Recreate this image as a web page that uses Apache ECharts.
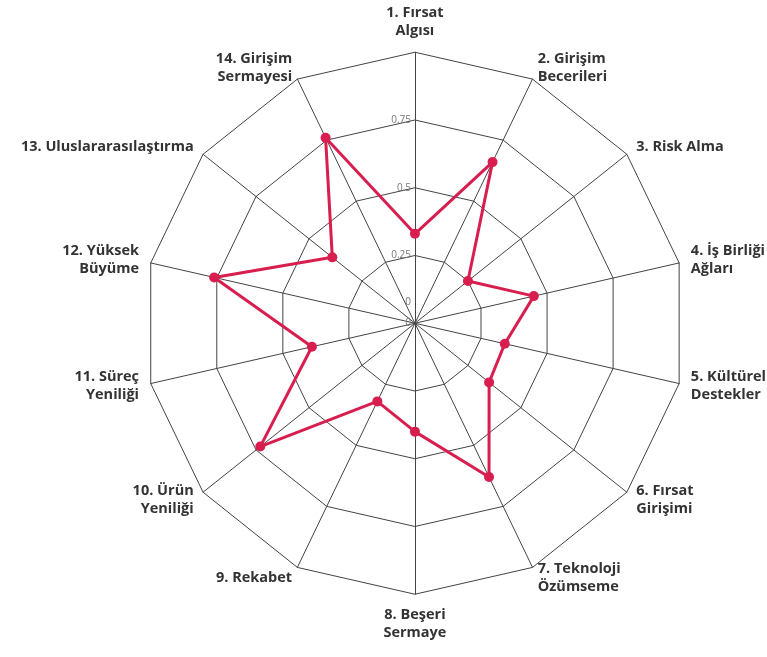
<!DOCTYPE html>
<html>
<head>
<meta charset="utf-8">
<script src="https://cdn.jsdelivr.net/npm/echarts@6/dist/echarts.min.js"></script>
<style>
html,body{margin:0;padding:0;background:#fff;}
#chart{width:767px;height:657px;}
</style>
</head>
<body>
<div id="chart"></div>
<script>
const indicatorNames = [
  "1. Fırsat\nAlgısı",
  "2. Girişim\nBecerileri",
  "3. Risk Alma",
  "4. İş Birliği\nAğları",
  "5. Kültürel\nDestekler",
  "6. Fırsat\nGirişimi",
  "7. Teknoloji\nÖzümseme",
  "8. Beşeri\nSermaye",
  "9. Rekabet",
  "10. Ürün\nYeniliği",
  "11. Süreç\nYeniliği",
  "12. Yüksek\nBüyüme",
  "13. Uluslararasılaştırma",
  "14. Girişim\nSermayesi"
];
const values = [0.33, 0.66, 0.25, 0.45, 0.34, 0.35, 0.63, 0.40, 0.32, 0.73, 0.39, 0.76, 0.39, 0.76];
const axisMax = 1;
const tickLabels = ["0", "0.25", "0.5", "0.75"];

// ECharts lays indicators counter-clockwise; reorder so they read clockwise
const order = [0].concat(indicatorNames.map((_, i) => i).slice(1).reverse());

const W = 767, H = 657;
const cx = 0.541, cy = 0.492;

const chart = echarts.init(document.getElementById('chart'));
const indicator = order.map((k, i) => {
  const o = { name: indicatorNames[k], min: 0, max: axisMax };
  if (i === 0) o.axisLabel = { show: true, showMinLabel: true };
  return o;
});
chart.setOption({
  backgroundColor: '#fff',
  radar: {
    center: [cx * 100 + '%', cy * 100 + '%'],
    radius: 271,
    startAngle: 90,
    splitNumber: 4,
    shape: 'polygon',
    indicator: indicator,
    nameGap: 12,
    axisName: {
      color: '#333',
      fontFamily: 'Open Sans',
      fontWeight: 'bold',
      fontSize: 14.5,
      lineHeight: 18
    },
    axisLine: { lineStyle: { color: '#444', width: 1 } },
    splitLine: { lineStyle: { color: '#444', width: 1 } },
    splitArea: { show: false },
    axisTick: { show: false },
    axisLabel: {
      show: false,
      color: '#777',
      fontSize: 10,
      fontFamily: 'Open Sans',
      margin: 4,
      formatter: function (v) {
        const idx = Math.round(v / 0.25);
        return tickLabels[idx] !== undefined ? tickLabels[idx] : '';
      }
    }
  },
  graphic: [{
    type: 'text',
    x: W * cx - 4,
    y: H * cy - 21,
    style: {
      text: tickLabels[0],
      fill: '#777',
      font: '10px "Open Sans"',
      align: 'right',
      verticalAlign: 'middle'
    }
  }],
  series: [{
    type: 'radar',
    symbol: 'circle',
    symbolSize: 10,
    lineStyle: { color: '#d81e4f', width: 3 },
    itemStyle: { color: '#d81e4f' },
    data: [{ value: order.map(k => values[k]) }]
  }]
});
</script>
</body>
</html>
